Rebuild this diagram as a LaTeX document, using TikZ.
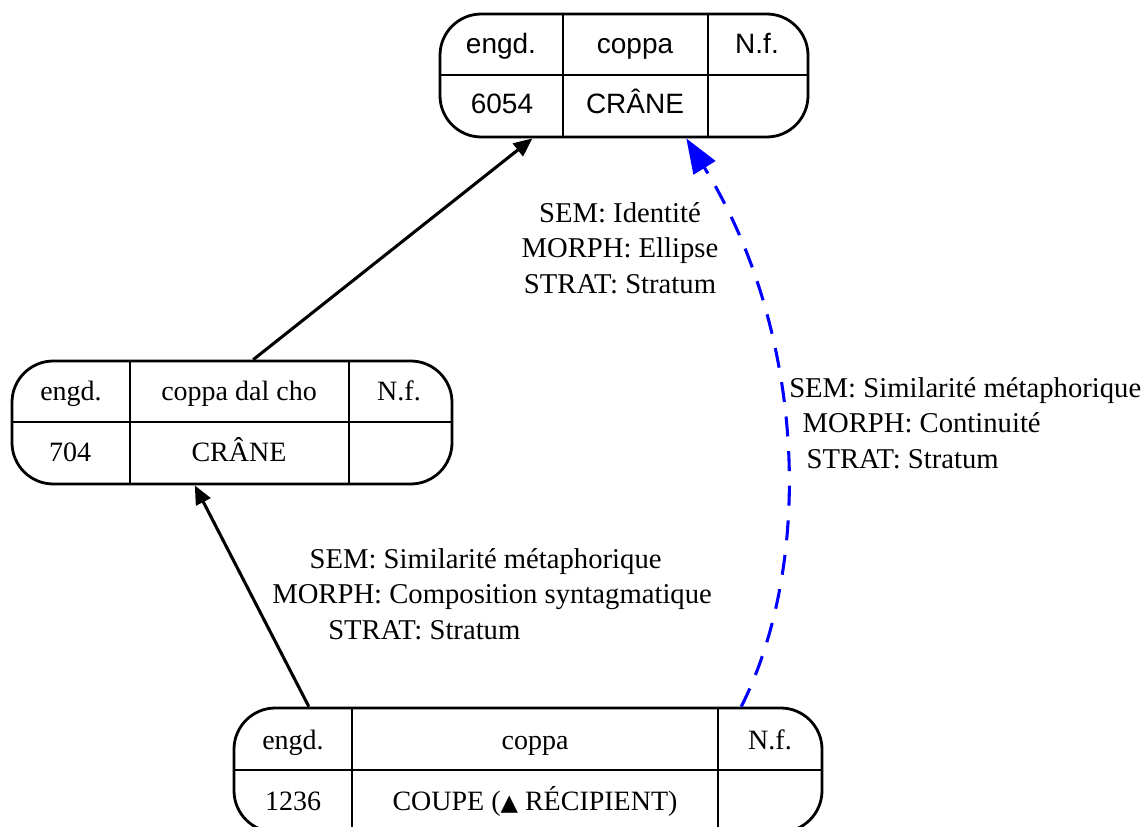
\documentclass[tikz,border=0pt]{standalone}
\usepackage{fontspec}
\setmainfont{Liberation Serif}
\newfontfamily\arialfont{Liberation Sans}
\newfontfamily\dejavu{DejaVu Sans}
\usetikzlibrary{arrows.meta,calc,fit}
\begin{document}
\begin{tikzpicture}[x=0.75pt,y=-0.75pt,
  tbl/.style={draw, line width=2.1pt, rounded corners=31pt, inner sep=0pt},
  rule/.style={line width=2.1pt},
  cell/.style={font=\fontsize{21}{25}\selectfont, inner sep=0pt, anchor=base},
  scell/.style={font=\arialfont\fontsize{21}{25}\selectfont, inner sep=0pt, anchor=base},
  lab/.style={align=center, font=\fontsize{21.5}{26.5}\selectfont, inner sep=0pt},
  labl/.style={align=left, anchor=west, font=\fontsize{21.5}{26.5}\selectfont, inner sep=0pt},
  blk/.style={line width=2.3pt, -{Triangle[length=14pt,width=12pt]}},
  blu/.style={draw=blue, line width=2.3pt, dash pattern=on 15pt off 11pt, -{Triangle[length=26pt,width=19pt]}}
]
\useasboundingbox (0,0) rectangle (1145,827);
% top table
\node[tbl, fit={(440,14)(808,137)}] (T) {};
\draw[rule] (440,75) -- (808,75);
\draw[rule] (563,14) -- (563,137);
\draw[rule] (708,14) -- (708,137);
\node[scell] (T11) at (501,54) {engd.};
\node[scell] (T12) at (635,54) {coppa};
\node[scell] (T13) at (757,54) {N.f.};
\node[scell] (T21) at (502,114) {6054};
\node[scell] (T22) at (635,114) {CRÂNE};
% middle table
\node[tbl, fit={(12,361)(452,484)}] (M) {};
\draw[rule] (12,422) -- (452,422);
\draw[rule] (130,361) -- (130,484);
\draw[rule] (349,361) -- (349,484);
\node[cell] (M11) at (71,400) {engd.};
\node[cell] (M12) at (239,400) {coppa dal cho};
\node[cell] (M13) at (399,400) {N.f.};
\node[cell] (M21) at (70,461) {704};
\node[cell] (M22) at (239,461) {CRÂNE};
% bottom table
\node[tbl, fit={(234,708)(822,832)}] (B) {};
\draw[rule] (234,770) -- (822,770);
\draw[rule] (352,708) -- (352,832);
\draw[rule] (718,708) -- (718,832);
\node[cell] (B11) at (293,749) {engd.};
\node[cell] (B12) at (535,749) {coppa};
\node[cell] (B13) at (770,749) {N.f.};
\node[cell] (B21) at (293,810) {1236};
\node[cell] (B22) at (535,810) {COUPE ({\dejavu\fontsize{17}{20}\selectfont ▲} RÉCIPIENT)};
% labels
\node[lab] (L1) at (620,248) {SEM: Identité\\MORPH: Ellipse\\STRAT: Stratum};
\node[labl] (L2) at (789,423) {SEM: Similarité métaphorique\\\hspace*{10pt}MORPH: Continuité\\\hspace*{13pt}STRAT: Stratum};
\node[labl] (L3) at (272,594) {\hspace*{28pt}SEM: Similarité métaphorique\\MORPH: Composition syntagmatique\\\hspace*{42pt}STRAT: Stratum};
% connectors
\draw[blk] ($(B.north west)!0.129!(B.north east)$) -- ($(M.south west)!0.416!(M.south east)$);
\draw[blk] ($(M.north west)!0.548!(M.north east)$) -- ($(T.south west)!0.253!(T.south east)$);
\draw[blu] ($(B.north west)!0.861!(B.north east)$) .. controls (815,560) and (805,330) .. ($(T.south west)!0.668!(T.south east)$);
\end{tikzpicture}
\end{document}
